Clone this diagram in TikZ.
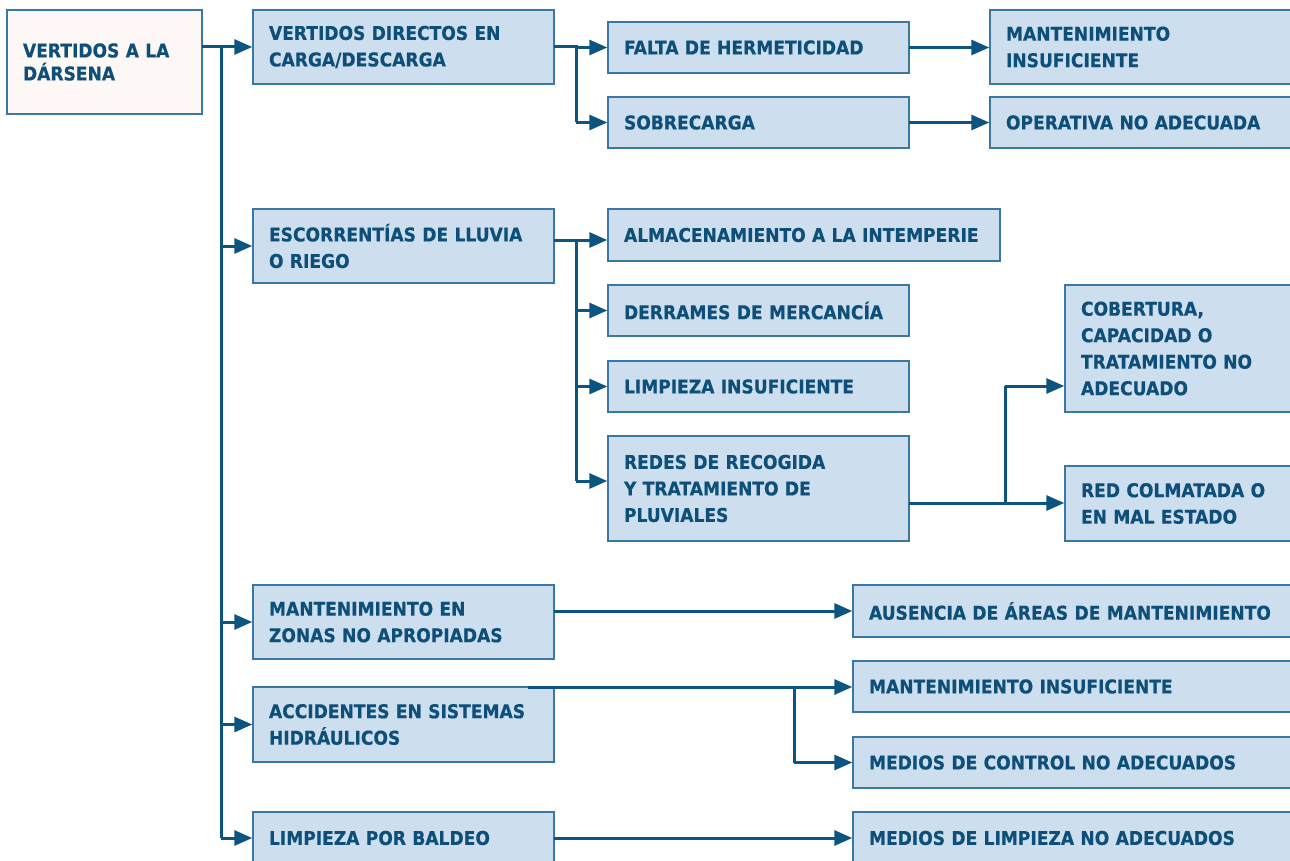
\documentclass[tikz,border=0pt]{standalone}
\usepackage{fontspec}
\setmainfont{DejaVu Sans}[FakeStretch=0.9, BoldFeatures={FakeBold=0.6}]
\usetikzlibrary{arrows.meta}
\definecolor{boxfill}{HTML}{CDDFEE}
\definecolor{rootfill}{HTML}{FDF8F5}
\definecolor{boxline}{HTML}{3A78A3}
\definecolor{txt}{HTML}{0D4F79}
\definecolor{arrc}{HTML}{0B5580}
\tikzset{
  bx/.style={draw=boxline, fill=boxfill, line width=1.5, anchor=north west,
    inner xsep=16, inner ysep=0, outer sep=0, align=left, text=txt,
    font=\fontsize{19}{26.5}\selectfont\bfseries},
  ln/.style={draw=arrc, line width=3},
  arr/.style={ln, -{Triangle[length=18pt,width=15pt]}, shorten >=0.7pt}
}
\begin{document}
\begin{tikzpicture}[x=1pt,y=-1pt]
\useasboundingbox (0,0) rectangle (1290,861);
\clip (0,0) rectangle (1290,861);
% root
\node[bx, fill=rootfill, text width=163, minimum height=104,
  font=\fontsize{19}{23}\selectfont\bfseries] (root) at (7,10) {VERTIDOS A LA\\DÁRSENA};
% level 1
\node[bx, text width=269, minimum height=74] (B1) at (253,10) {VERTIDOS DIRECTOS EN\\CARGA/DESCARGA};
\node[bx, text width=269, minimum height=74] (B2) at (253,209) {ESCORRENTÍAS DE LLUVIA\\O RIEGO};
\node[bx, text width=269, minimum height=74] (B3) at (253,585) {MANTENIMIENTO EN\\ZONAS NO APROPIADAS};
\node[bx, text width=269, minimum height=75] (B4) at (253,687) {ACCIDENTES EN SISTEMAS\\HIDRÁULICOS};
\node[bx, text width=269, minimum height=52] (B5) at (253,812) {LIMPIEZA POR BALDEO};
% level 2
\node[bx, text width=269, minimum height=51] (C1) at (608,22) {FALTA DE HERMETICIDAD};
\node[bx, text width=269, minimum height=51] (C2) at (608,97) {SOBRECARGA};
\node[bx, text width=360, minimum height=52] (C3) at (608,209) {ALMACENAMIENTO A LA INTEMPERIE};
\node[bx, text width=269, minimum height=51] (C4) at (608,285) {DERRAMES DE MERCANCÍA};
\node[bx, text width=269, minimum height=51] (C5) at (608,361) {LIMPIEZA INSUFICIENTE};
\node[bx, text width=269, minimum height=105] (C6) at (608,436) {REDES DE RECOGIDA\\Y TRATAMIENTO DE\\PLUVIALES};
% level 3
\node[bx, text width=288, minimum height=74] (D1) at (990,10) {MANTENIMIENTO\\INSUFICIENTE};
\node[bx, text width=288, minimum height=51] (D2) at (990,97) {OPERATIVA NO ADECUADA};
\node[bx, text width=203, minimum height=127] (D3) at (1065,285) {COBERTURA,\\CAPACIDAD O\\TRATAMIENTO NO\\ADECUADO};
\node[bx, text width=203, minimum height=75] (D4) at (1065,466) {RED COLMATADA O\\EN MAL ESTADO};
\node[bx, text width=415, minimum height=52] (E1) at (853,585) {AUSENCIA DE ÁREAS DE MANTENIMIENTO};
\node[bx, text width=415, minimum height=51] (E2) at (853,661) {MANTENIMIENTO INSUFICIENTE};
\node[bx, text width=415, minimum height=51] (E3) at (853,737) {MEDIOS DE CONTROL NO ADECUADOS};
\node[bx, text width=415, minimum height=52] (E4) at (853,812) {MEDIOS DE LIMPIEZA NO ADECUADOS};
% trunk
\coordinate (t) at (221,0);
\draw[ln] (t |- B1.west) -- (t |- B5.west);
\draw[arr] (root.east |- B1.west) -- (B1.west);
\foreach \b in {B2,B3,B4,B5} \draw[arr] (t |- \b.west) -- (\b.west);
% B1 branch
\coordinate (j1) at (576,0);
\draw[ln] (B1.east) -- (j1 |- B1.east) -- (j1 |- C2.west);
\draw[arr] (j1 |- C1.west) -- (C1.west);
\draw[arr] (j1 |- C2.west) -- (C2.west);
\draw[arr] (C1.east) -- (C1.east -| D1.west);
\draw[arr] (C2.east) -- (C2.east -| D2.west);
% B2 branch
\coordinate (j2) at (576,240);
\coordinate (j2b) at (576,481);
\draw[ln] (B2.east |- j2) -- (j2) -- (j2b);
\draw[arr] (j2) -- (j2 -| C3.west);
\draw[arr] (j2 |- C4.west) -- (C4.west);
\draw[arr] (j2 |- C5.west) -- (C5.west);
\draw[arr] (j2b) -- (j2b -| C6.west);
% C6 branch
\coordinate (j3) at (1005,503);
\coordinate (j3b) at (1005,386);
\draw[arr] (C6.east |- j3) -- (j3 -| D4.west);
\draw[ln] (j3) -- (j3b);
\draw[arr] (j3b) -- (j3b -| D3.west);
% B3
\draw[arr] (B3.east |- E1.west) -- (E1.west);
% B4
\coordinate (s4) at ([xshift=-26pt]B4.north east);
\coordinate (j4) at (794,687);
\draw[arr] (s4) -- (s4 -| E2.west);
\draw[ln] (j4) -- (j4 |- E3.west);
\draw[arr] (j4 |- E3.west) -- (E3.west);
% B5
\draw[arr] (B5.east) -- (B5.east -| E4.west);
\end{tikzpicture}
\end{document}
